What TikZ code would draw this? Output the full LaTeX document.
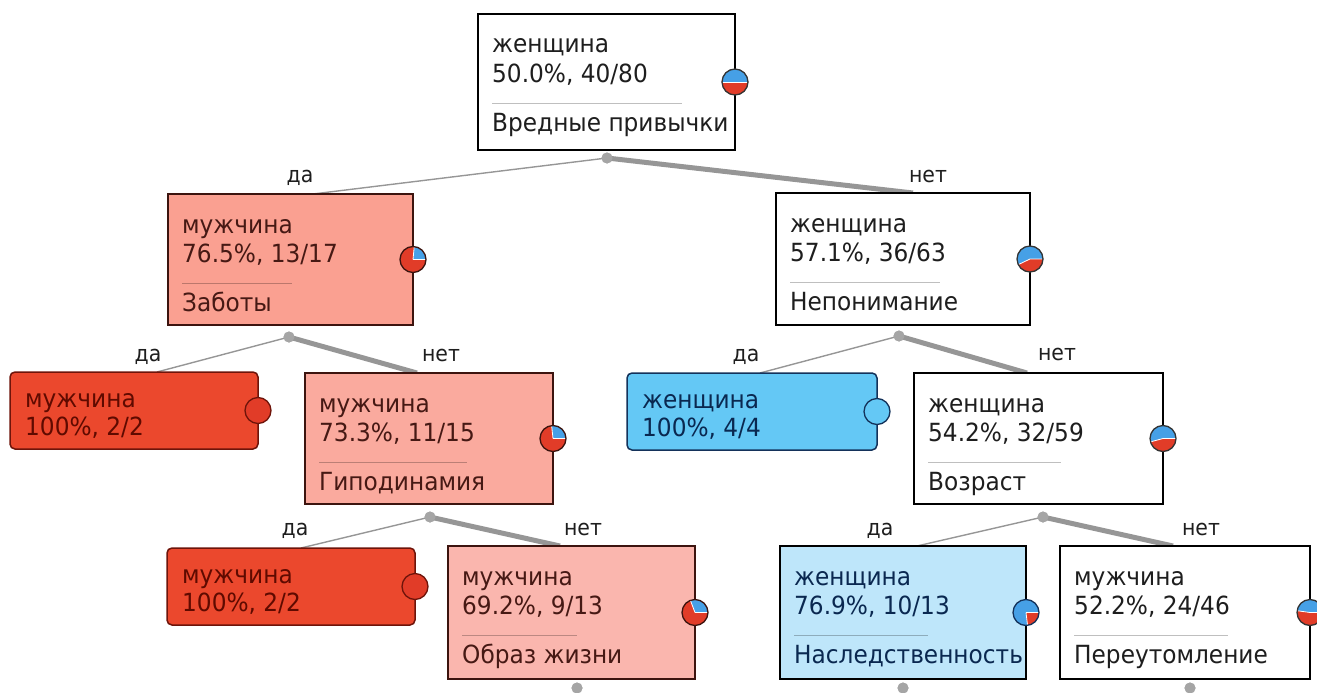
\documentclass[tikz,border=0pt]{standalone}
\usepackage{fontspec}
\setmainfont{DejaVu Sans}
\newfontfamily\nodefont[FakeStretch=0.93]{DejaVu Sans}
\definecolor{rpie}{RGB}{225,60,40}
\definecolor{bpie}{RGB}{70,160,230}
\definecolor{edgec}{RGB}{150,150,150}
\definecolor{dotc}{RGB}{165,165,165}
\definecolor{pinkA}{RGB}{250,160,145}
\definecolor{pinkB}{RGB}{250,170,158}
\definecolor{pinkC}{RGB}{250,182,174}
\definecolor{redleaf}{RGB}{235,72,45}
\definecolor{blueleaf}{RGB}{100,200,245}
\definecolor{lightblue}{RGB}{190,230,250}
\definecolor{txtdark}{RGB}{30,30,30}
\definecolor{txtpink}{RGB}{70,25,20}
\definecolor{txtred}{RGB}{95,10,0}
\definecolor{txtblue}{RGB}{10,40,80}
\definecolor{bordpink}{RGB}{60,20,15}
\definecolor{bordred}{RGB}{110,20,10}
\definecolor{bordblue}{RGB}{20,50,90}
\tikzset{
  box/.style={rectangle, anchor=north west, line width=1.5pt, inner sep=0pt, outer sep=0pt},
  leafbox/.style={box, rounded corners=5pt},
  txt/.style={anchor=base west, inner sep=0pt, font=\nodefont\fontsize{25}{29}\selectfont},
  lbl/.style={anchor=base, inner sep=0pt, font=\nodefont\fontsize{22}{26}\selectfont, text=txtdark},
  sepline/.style={line width=1pt, draw=black, draw opacity=0.25},
  thinedge/.style={draw=edgec, line width=1.4pt},
  thickedge/.style={draw=edgec, line width=5pt},
  dot/.style={circle, fill=dotc, inner sep=0pt, minimum size=11pt},
}
\newcommand\piechart[3]{%
  \fill[bpie] (#1) -- ++(0:13pt) arc[start angle=0,end angle=#2,radius=13pt] -- cycle;
  \fill[rpie] (#1) -- ++(#2:13pt) arc[start angle=#2,end angle=360,radius=13pt] -- cycle;
  \draw[white, line width=0.8pt] (#1) -- ++(0:13pt) (#1) -- ++(#2:13pt);
  \draw[#3, line width=1.3pt] (#1) circle[radius=13pt];
}
\newcommand\fullcircle[3]{%
  \fill[#2] (#1) circle[radius=13pt];
  \draw[#3, line width=1.3pt] (#1) circle[radius=13pt];
}
\newcommand\innertext[6]{%
  \node[txt, text=#5] (#1a) at ([xshift=14pt,yshift=-39pt]#1.north west) {#2};
  \node[txt, text=#5] (#1b) at ([xshift=14pt,yshift=-68pt]#1.north west) {#3};
  \draw[sepline] ([xshift=14pt,yshift=-89pt]#1.north west) -- ++(#6,0);
  \node[txt, text=#5] (#1c) at ([xshift=14pt,yshift=-117pt]#1.north west) {#4};
}
\newcommand\leaftext[4]{%
  \node[txt, text=#4] (#1a) at ([xshift=15pt,yshift=-35pt]#1.north west) {#2};
  \node[txt, text=#4] (#1b) at ([xshift=15pt,yshift=-63pt]#1.north west) {#3};
}
\begin{document}
\begin{tikzpicture}[x=1pt,y=-1pt]
\useasboundingbox (0,0) rectangle (1317,693);
% node geometry (named, invisible) used for connectors
\tikzset{geo/.style={rectangle, anchor=north west, inner sep=0pt, outer sep=0pt}}
\node[geo, minimum width=257pt, minimum height=136pt] (n0) at (478,14) {};
\node[geo, minimum width=245pt, minimum height=131pt] (n1) at (168,194) {};
\node[geo, minimum width=254pt, minimum height=132pt] (n2) at (776,193) {};
\node[geo, minimum width=248pt, minimum height=77pt] (n3) at (10,372) {};
\node[geo, minimum width=248pt, minimum height=131pt] (n4) at (305,373) {};
\node[geo, minimum width=250pt, minimum height=77pt] (n5) at (627,373) {};
\node[geo, minimum width=249pt, minimum height=131pt] (n6) at (914,373) {};
\node[geo, minimum width=248pt, minimum height=77pt] (n7) at (167,548) {};
\node[geo, minimum width=247pt, minimum height=133pt] (n8) at (448,546) {};
\node[geo, minimum width=246pt, minimum height=133pt] (n9) at (780,546) {};
\node[geo, minimum width=250pt, minimum height=133pt] (n10) at (1060,546) {};
% split dots
\node[dot] (d0) at (607,158) {};
\node[dot] (d1) at (289,337) {};
\node[dot] (d2) at (899,336) {};
\node[dot] (d4) at (430,517) {};
\node[dot] (d6) at (1043,517) {};
\node[dot] (d8) at (577,688) {};
\node[dot] (d9) at (903,688) {};
\node[dot] (d10) at (1190,688) {};
% connectors
\draw[thinedge] (d0.center) -- ([xshift=22.5pt]n1.north);
\draw[thickedge] (d0.center) -- ([xshift=10pt]n2.north);
\draw[thinedge] (d1.center) -- ([xshift=23pt]n3.north);
\draw[thickedge] (d1.center) -- ([xshift=-12pt]n4.north);
\draw[thinedge] (d2.center) -- ([xshift=8pt]n5.north);
\draw[thickedge] (d2.center) -- ([xshift=-11.5pt]n6.north);
\draw[thinedge] (d4.center) -- ([xshift=10pt]n7.north);
\draw[thickedge] (d4.center) -- ([xshift=-11.5pt]n8.north);
\draw[thinedge] (d6.center) -- ([xshift=14pt]n9.north);
\draw[thickedge] (d6.center) -- ([xshift=-12pt]n10.north);
% visible boxes over the connector ends
\draw[line width=1.5pt, draw=black, fill=white] (n0.north west) rectangle (n0.south east);
\draw[line width=1.5pt, draw=bordpink, fill=pinkA] (n1.north west) rectangle (n1.south east);
\draw[line width=1.5pt, draw=black, fill=white] (n2.north west) rectangle (n2.south east);
\draw[line width=1.5pt, draw=bordred, fill=redleaf, rounded corners=5pt] (n3.north west) rectangle (n3.south east);
\draw[line width=1.5pt, draw=bordpink, fill=pinkB] (n4.north west) rectangle (n4.south east);
\draw[line width=1.5pt, draw=bordblue, fill=blueleaf, rounded corners=5pt] (n5.north west) rectangle (n5.south east);
\draw[line width=1.5pt, draw=black, fill=white] (n6.north west) rectangle (n6.south east);
\draw[line width=1.5pt, draw=bordred, fill=redleaf, rounded corners=5pt] (n7.north west) rectangle (n7.south east);
\draw[line width=1.5pt, draw=bordpink, fill=pinkC] (n8.north west) rectangle (n8.south east);
\draw[line width=1.5pt, draw=black, fill=lightblue] (n9.north west) rectangle (n9.south east);
\draw[line width=1.5pt, draw=black, fill=white] (n10.north west) rectangle (n10.south east);
% dots on top
\foreach \d in {d0,d1,d2,d4,d6,d8,d9,d10} \fill[dotc] (\d) circle[radius=5.5pt];
% branch labels
\node[lbl] (l1) at (300,182) {да};
\node[lbl] (l2) at (928,182) {нет};
\node[lbl] (l3) at (148,361) {да};
\node[lbl] (l4) at (441,361) {нет};
\node[lbl] (l5) at (746,361) {да};
\node[lbl] (l6) at (1057,360) {нет};
\node[lbl] (l7) at (295,535) {да};
\node[lbl] (l8) at (583,535) {нет};
\node[lbl] (l9) at (880,535) {да};
\node[lbl] (l10) at (1201,535) {нет};
% node texts
\innertext{n0}{женщина}{50.0\%, 40/80}{Вредные привычки}{txtdark}{190}
\innertext{n1}{мужчина}{76.5\%, 13/17}{Заботы}{txtpink}{110}
\innertext{n2}{женщина}{57.1\%, 36/63}{Непонимание}{txtdark}{150}
\innertext{n4}{мужчина}{73.3\%, 11/15}{Гиподинамия}{txtpink}{148}
\innertext{n6}{женщина}{54.2\%, 32/59}{Возраст}{txtdark}{133}
\innertext{n8}{мужчина}{69.2\%, 9/13}{Образ жизни}{txtpink}{115}
\innertext{n9}{женщина}{76.9\%, 10/13}{Наследственность}{txtblue}{134}
\innertext{n10}{мужчина}{52.2\%, 24/46}{Переутомление}{txtdark}{154}
\leaftext{n3}{мужчина}{100\%, 2/2}{txtred}
\leaftext{n5}{женщина}{100\%, 4/4}{txtblue}
\leaftext{n7}{мужчина}{100\%, 2/2}{txtred}
% class distribution pies
\piechart{n0.east}{180}{black!80}
\piechart{n1.east}{84.6}{bordpink}
\piechart{n2.east}{205.6}{black!80}
\fullcircle{n3.east}{rpie}{bordred}
\piechart{n4.east}{96.1}{bordpink}
\fullcircle{n5.east}{blueleaf}{bordblue}
\piechart{n6.east}{195.1}{black!80}
\fullcircle{n7.east}{rpie}{bordred}
\piechart{n8.east}{110.8}{bordpink}
\piechart{n9.east}{276.8}{bordblue}
\piechart{n10.east}{172.1}{black!80}
\end{tikzpicture}
\end{document}
